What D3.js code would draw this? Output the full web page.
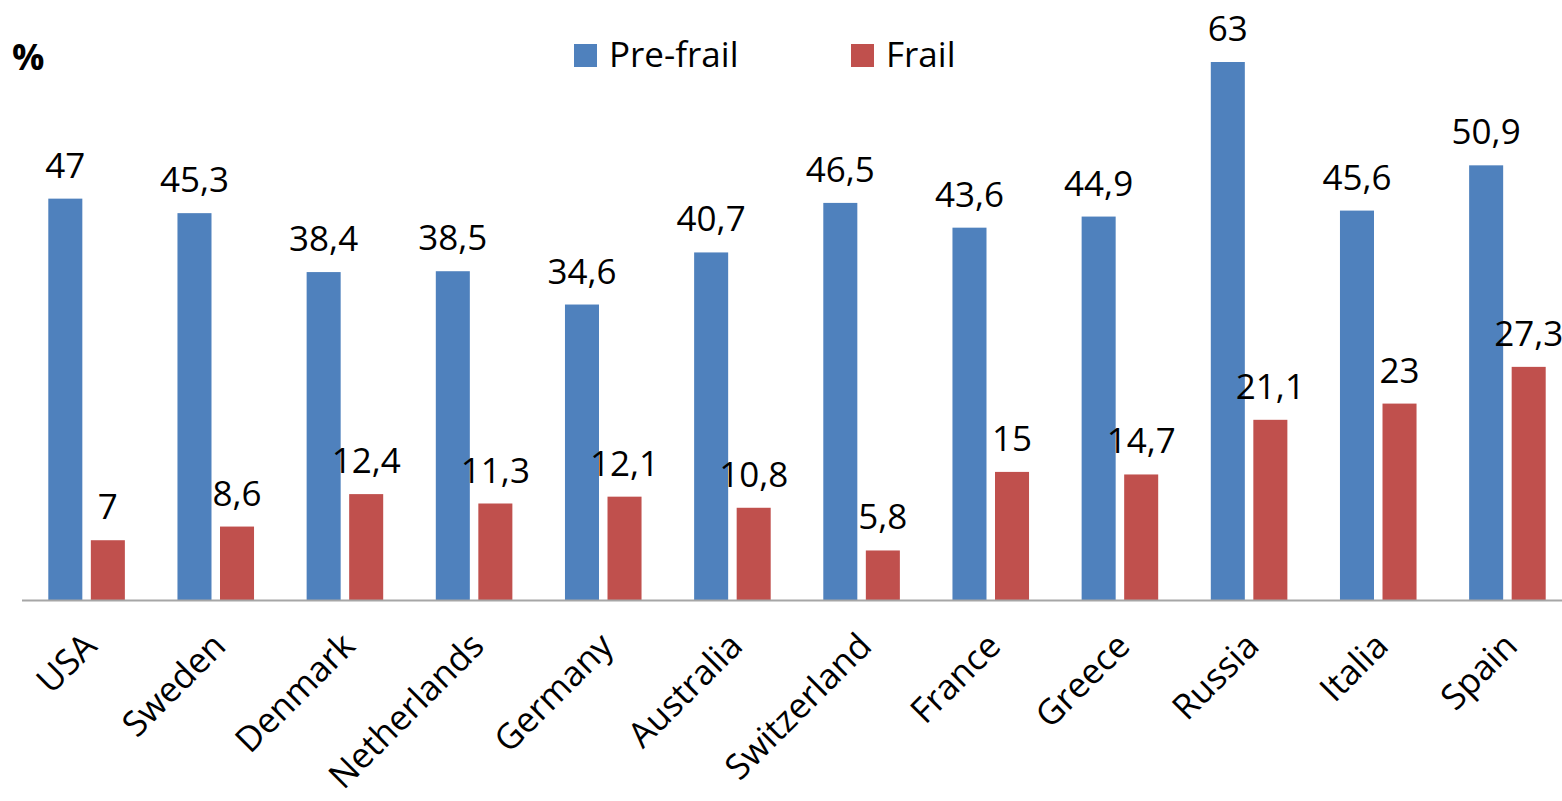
<!DOCTYPE html>
<html><head><meta charset="utf-8">
<script src="https://cdn.jsdelivr.net/npm/d3@7"></script>
<style>body{margin:0;background:#fff}svg{display:block}text{font-family:"Open Sans",sans-serif}</style>
</head><body>
<script>
const categories = ["USA","Sweden","Denmark","Netherlands","Germany","Australia","Switzerland","France","Greece","Russia","Italia","Spain"];
const preFrail = [47,45.3,38.4,38.5,34.6,40.7,46.5,43.6,44.9,63,45.6,50.9];
const frail = [7,8.6,12.4,11.3,12.1,10.8,5.8,15,14.7,21.1,23,27.3];
const seriesNames = ["Pre-frail","Frail"];
const colors = ["#4F81BD","#C0504D"];

const W=1562,H=801;
const svg=d3.select("body").append("svg").attr("width",W).attr("height",H);
const x0=d3.scaleBand().domain(categories).range([22,1572]).paddingInner(0).paddingOuter(0);
const x1=d3.scaleBand().domain(seriesNames).range([26.3,x0.bandwidth()-26.3]).paddingInner(0.2).paddingOuter(0);
const y=d3.scaleLinear().domain([0,63]).range([600,62]);
const fmt=v=>String(v).replace(".",",");

const data=[preFrail,frail];
data.forEach((vals,si)=>{
  const g=svg.append("g");
  g.selectAll("rect").data(vals).join("rect")
    .attr("x",(d,i)=>x0(categories[i])+x1(seriesNames[si]))
    .attr("y",d=>y(d))
    .attr("width",x1.bandwidth())
    .attr("height",d=>y(0)-y(d))
    .attr("fill",colors[si]);
});
data.forEach((vals,si)=>{
  svg.append("g").selectAll("text").data(vals).join("text")
    .attr("x",(d,i)=>x0(categories[i])+x1(seriesNames[si])+x1.bandwidth()/2)
    .attr("y",d=>y(d)-21)
    .attr("text-anchor","middle")
    .attr("font-size",35)
    .attr("fill","#000")
    .text(d=>fmt(d));
});
// axis line
svg.append("line").attr("x1",22).attr("x2",W).attr("y1",y(0)+0.5).attr("y2",y(0)+0.5)
  .attr("stroke","#A6A6A6").attr("stroke-width",2);
// category labels
svg.append("g").selectAll("text").data(categories).join("text")
  .attr("transform",d=>`translate(${x0(d)+x0.bandwidth()/2+12},${y(0)+48}) rotate(-45)`)
  .attr("text-anchor","end")
  .attr("font-size",35)
  .text(d=>d);
// % label
svg.append("text").attr("x",12).attr("y",70).attr("font-size",36).attr("font-weight","bold").text("%");
// legend
const leg=[{x:574,t:"Pre-frail"},{x:851,t:"Frail"}];
leg.forEach((l,i)=>{
  svg.append("rect").attr("x",l.x).attr("y",44).attr("width",23).attr("height",23).attr("fill",colors[i]);
  svg.append("text").attr("x",l.x+35).attr("y",67).attr("font-size",35).text(seriesNames[i]);
});
</script>
</body></html>
